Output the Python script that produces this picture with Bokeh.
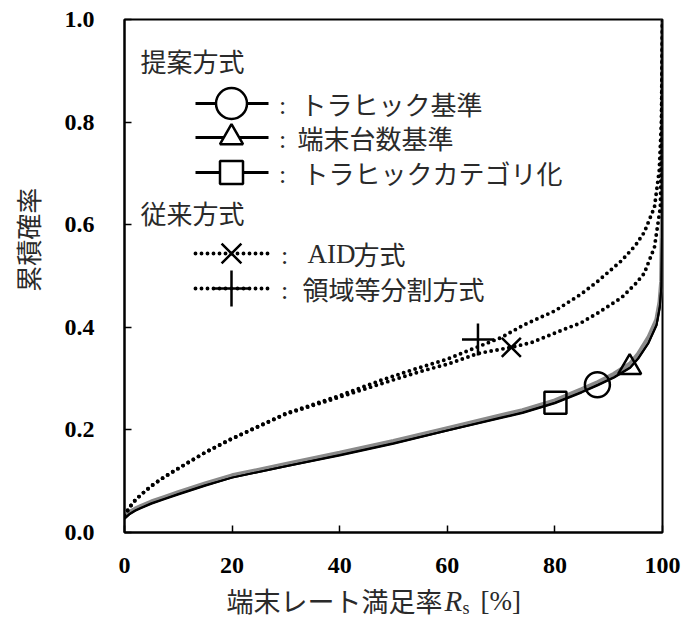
import math
from bokeh.plotting import figure
from bokeh.layouts import column, row
from bokeh.models import Range1d, Label, FixedTicker, NumeralTickFormatter
from bokeh.embed import file_html
from bokeh.resources import INLINE

# ---------------- data ----------------
rs_prop = [0, 1, 2, 3, 5, 7.5, 10, 15, 20, 30, 40, 50, 60, 70, 74, 80, 85, 88, 91, 94, 95.5, 97.4, 98.9, 99.5, 99.8, 99.95, 100]
cdf_traffic = [0.027, 0.036, 0.042, 0.047, 0.056, 0.065, 0.074, 0.091, 0.107, 0.129, 0.150, 0.173, 0.199, 0.223, 0.233, 0.252, 0.273, 0.287, 0.302, 0.321, 0.339, 0.369, 0.404, 0.44, 0.48, 0.62, 1.0]
cdf_terminal = [0.027, 0.037, 0.043, 0.048, 0.057, 0.066, 0.075, 0.092, 0.107, 0.129, 0.151, 0.174, 0.199, 0.224, 0.234, 0.253, 0.274, 0.288, 0.303, 0.322, 0.340, 0.370, 0.405, 0.44, 0.48, 0.62, 1.0]
cdf_category = [0.030, 0.040, 0.046, 0.051, 0.060, 0.069, 0.078, 0.095, 0.111, 0.133, 0.155, 0.178, 0.203, 0.228, 0.238, 0.257, 0.279, 0.293, 0.309, 0.329, 0.348, 0.380, 0.415, 0.45, 0.49, 0.63, 1.0]

rs_div = [0, 1, 2, 3, 5, 7.5, 10, 15, 20, 30, 40, 48, 55, 60, 65.7, 70, 74.3, 80, 84.9, 88, 92.4, 95, 96.6, 98.5, 99.4, 99.8, 100]
cdf_div = [0.033, 0.050, 0.063, 0.073, 0.091, 0.109, 0.125, 0.156, 0.183, 0.232, 0.267, 0.298, 0.322, 0.338, 0.362, 0.380, 0.405, 0.432, 0.465, 0.490, 0.530, 0.560, 0.585, 0.634, 0.706, 0.80, 1.0]

rs_aid = [0, 1, 2, 3, 5, 7.5, 10, 15, 20, 30, 40, 48, 55, 60, 65.7, 71.9, 75.6, 81.2, 84.9, 88, 92.4, 95, 96.6, 98.5, 99.6, 99.8, 100]
cdf_aid = [0.033, 0.050, 0.063, 0.073, 0.091, 0.109, 0.125, 0.156, 0.183, 0.231, 0.264, 0.291, 0.314, 0.328, 0.349, 0.361, 0.370, 0.394, 0.409, 0.428, 0.458, 0.485, 0.505, 0.556, 0.634, 0.74, 1.0]

# marker positions on the curves
mk_traffic = (87.9, 0.288)
mk_terminal = (93.9, 0.322)
mk_category = (80.1, 0.253)
mk_aid = (71.9, 0.361)
mk_div = (65.7, 0.376)

x_ticks = [0, 20, 40, 60, 80, 100]
y_ticks = [0.0, 0.2, 0.4, 0.6, 0.8, 1.0]

legend_prop_title = "提案方式"
legend_conv_title = "従来方式"
name_traffic = "トラヒック基準"
name_terminal = "端末台数基準"
name_category = "トラヒックカテゴリ化"
name_aid_a = "AID"
name_aid_b = "方式"
name_div = "領域等分割方式"
y_label = "累積確率"
x_label_jp = "端末レート満足率"

# ---------------- layout ----------------
W, H = 686, 621
YLAB_W = 58
XLAB_H = 41
MAIN_W, MAIN_H = W - YLAB_W, H - XLAB_H
L, R, T, B = 124, 662, 19, 532   # frame in page pixels

def px2x(px):
    return (px - L) / (R - L) * 100.0

def py2y(py):
    return (B - py) / (B - T)

p = figure(width=MAIN_W, height=MAIN_H, output_backend="svg", toolbar_location=None,
           x_range=Range1d(0, 100), y_range=Range1d(0, 1),
           min_border_left=L - YLAB_W, min_border_right=W - R,
           min_border_top=T, min_border_bottom=MAIN_H - B)
p.background_fill_color = "white"
p.border_fill_color = "white"
p.outline_line_color = "black"
p.outline_line_width = 2
p.xgrid.visible = False
p.ygrid.visible = False

for ax in (p.xaxis[0], p.yaxis[0]):
    ax.axis_line_color = "black"
    ax.axis_line_width = 2
    ax.major_tick_in = 7
    ax.major_tick_out = 0
    ax.major_tick_line_width = 1.5
    ax.major_tick_line_color = "black"
    ax.minor_tick_line_color = None
    ax.major_label_text_font = "Liberation Serif"
    ax.major_label_text_font_style = "bold"
    ax.major_label_text_font_size = "24px"
    ax.major_label_text_color = "black"

p.xaxis[0].ticker = FixedTicker(ticks=x_ticks)
p.yaxis[0].ticker = FixedTicker(ticks=y_ticks)
p.yaxis[0].formatter = NumeralTickFormatter(format="0.0")
p.xaxis[0].major_label_standoff = 25
p.yaxis[0].major_label_standoff = 30

# ---------------- curves ----------------
p.line(rs_prop, cdf_category, line_color="#8a8a8a", line_width=4.5)
p.line(rs_prop, cdf_terminal, line_color="black", line_width=2)
p.line(rs_prop, cdf_traffic, line_color="black", line_width=2)

DOT = "0 6"
DOTW = 3.9
p.line(rs_div, cdf_div, line_color="black", line_width=DOTW, line_dash=DOT, line_cap="round")
p.line(rs_aid, cdf_aid, line_color="black", line_width=DOTW, line_dash=DOT, line_cap="round")

mkw = 2.5
p.scatter([mk_traffic[0]], [mk_traffic[1]], marker="circle", size=25, fill_color=None, line_color="black", line_width=mkw)
p.scatter([mk_terminal[0]], [mk_terminal[1]], marker="triangle", size=23, fill_color=None, line_color="black", line_width=mkw)
p.scatter([mk_category[0]], [mk_category[1]], marker="square", size=22, fill_color=None, line_color="black", line_width=mkw)
p.scatter([mk_aid[0]], [mk_aid[1]], marker="x", size=27, fill_color=None, line_color="black", line_width=mkw)
p.scatter([mk_div[0]], [mk_div[1]], marker="cross", size=32, fill_color=None, line_color="black", line_width=mkw)

# ---------------- legend (hand drawn) ----------------
JP = "Noto Sans CJK JP"
TXT = "#2a2a2a"
FS = "26px"

def label(fig, text, x, y, font=JP, size=FS, align="left", style="normal", color=TXT, angle=0.0):
    fig.add_layout(Label(x=x, y=y, text=text, text_font=font, text_font_size=size,
                         text_align=align, text_baseline="middle", text_color=color,
                         text_font_style=style, angle=angle))

def mlabel(text, px, py, **kw):
    label(p, text, px2x(px), py2y(py), **kw)

mlabel(legend_prop_title, 140, 60)
mlabel(legend_conv_title, 140, 212)

lx0, lx1, lmx = 195, 268, 231
rows = [
    (103, "circle", 31, name_traffic, 300),
    (137, "triangle", 23, name_terminal, 297),
    (172, "square", 23, name_category, 302),
]
for py, mk, sz, name, tx in rows:
    p.line([px2x(lx0), px2x(lx1)], [py2y(py), py2y(py)], line_color="black", line_width=3)
    p.scatter([px2x(lmx)], [py2y(py)], marker=mk, size=sz, fill_color="white", line_color="black", line_width=mkw)
    mlabel(":", 282, py + 2, font="Liberation Serif", size="26px", align="center")
    mlabel(name, tx, py)

conv_rows = [(253, "x", 28), (288, "cross", 36)]
for py, mk, sz in conv_rows:
    p.line([px2x(lx0), px2x(lx1)], [py2y(py), py2y(py)], line_color="black", line_width=DOTW,
           line_dash=DOT, line_cap="round")
    p.scatter([px2x(lmx)], [py2y(py)], marker=mk, size=sz, fill_color=None, line_color="black", line_width=mkw)
    mlabel(":", 284, py + 2, font="Liberation Serif", size="26px", align="center")

mlabel(name_aid_a, 307, 253, font="Liberation Serif", size="27px")
mlabel(name_aid_b, 353, 253)
mlabel(name_div, 302, 288)

# ---------------- axis titles (separate label panels) ----------------
def blank(w, h):
    f = figure(width=w, height=h, output_backend="svg", toolbar_location=None,
               x_range=Range1d(0, w), y_range=Range1d(0, h),
               x_axis_type=None, y_axis_type=None, min_border=0)
    f.outline_line_color = None
    f.background_fill_color = "white"
    f.border_fill_color = "white"
    return f

ylab = blank(YLAB_W, MAIN_H)
label(ylab, y_label, 27, MAIN_H - 249, align="center", angle=math.pi / 2)

xlab = blank(W, XLAB_H)
yc = H - 600
label(xlab, x_label_jp, 226, yc, size="27px")
label(xlab, "R", 444, yc, font="Liberation Serif", size="29px", style="italic")
label(xlab, "s", 462, yc - 7, font="Liberation Serif", size="18px")
label(xlab, "[%]", 480, yc, font="Liberation Serif", size="27px")

layout = column(row(ylab, p, spacing=0), xlab, spacing=0)
open("out.html", "w").write(file_html(layout, INLINE))
